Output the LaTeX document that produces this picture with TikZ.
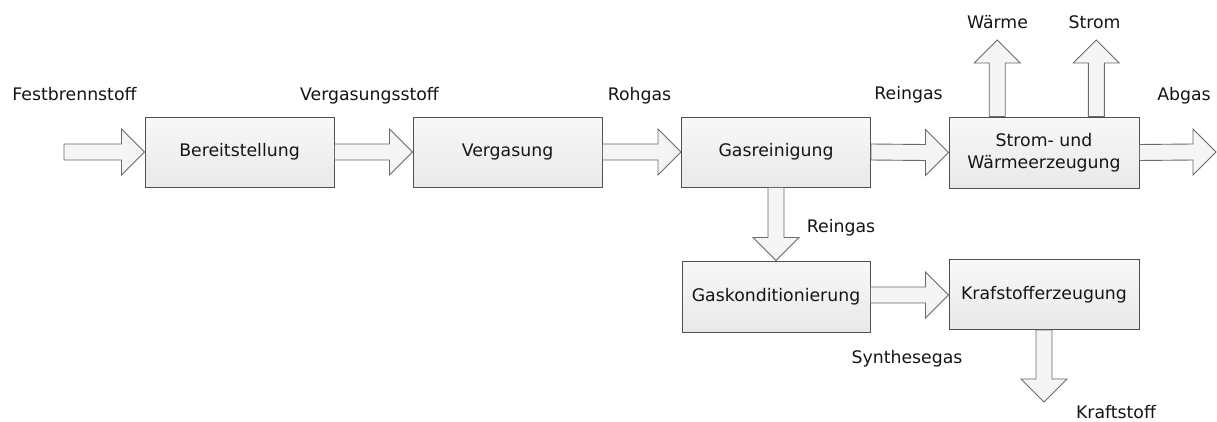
\documentclass[tikz,border=0pt]{standalone}
\usepackage{fontspec}
\setmainfont{DejaVu Sans}
\usetikzlibrary{calc}
\definecolor{boxfill}{HTML}{EEEEEE}
\definecolor{boxline}{HTML}{505050}
\definecolor{arrfill}{HTML}{F5F5F5}
\definecolor{arrline}{HTML}{6A6A6A}
\definecolor{txt}{HTML}{151515}
\tikzset{
  procbox/.style={draw=boxline, line width=1pt, top color=boxfill!40!white, bottom color=boxfill!95!gray,
    minimum width=189pt, minimum height=70pt, inner sep=0pt, align=center, text=txt,
    font=\fontsize{17.3}{22}\selectfont},
  lbl/.style={anchor=base, inner sep=0pt, text=txt, font=\fontsize{17.3}{22}\selectfont},
  blockarr/.style={draw=arrline, fill=arrfill, line width=0.9pt, line join=miter}
}
% horizontal block arrow from #1 to tip #2 (pointing right)
\newcommand\harrow[2]{%
  \draw[blockarr] ($(#1)+(0,-8)$) -- ($(#2)+(-23,-8)$) -- ($(#2)+(-23,-23)$) -- (#2)
    -- ($(#2)+(-23,23)$) -- ($(#2)+(-23,8)$) -- ($(#1)+(0,8)$) -- cycle;}
% downward block arrow from #1 to tip #2
\newcommand\darrow[2]{%
  \draw[blockarr] ($(#1)+(-8,0)$) -- ($(#2)+(-8,-23)$) -- ($(#2)+(-23,-23)$) -- (#2)
    -- ($(#2)+(23,-23)$) -- ($(#2)+(8,-23)$) -- ($(#1)+(8,0)$) -- cycle;}
% upward block arrow from #1 to tip #2
\newcommand\uarrow[2]{%
  \draw[blockarr] ($(#1)+(-8,0)$) -- ($(#2)+(-8,23)$) -- ($(#2)+(-23,23)$) -- (#2)
    -- ($(#2)+(23,23)$) -- ($(#2)+(8,23)$) -- ($(#1)+(8,0)$) -- cycle;}
\begin{document}
\begin{tikzpicture}[x=1pt,y=-1pt]
\useasboundingbox[fill=white] (0,0) rectangle (1217,421);

\node[procbox] (b1) at (239.5,152) {Bereitstellung};
\node[procbox] (b2) at (507.5,152) {Vergasung};
\node[procbox] (b3) at (776,152) {Gasreinigung};
\node[procbox, minimum width=190pt, minimum height=71pt] (b4) at (1044,152.5) {Strom- und\\Wärmeerzeugung};
\node[procbox, minimum width=188pt, minimum height=71pt] (b5) at (776,296.5) {Gaskonditionierung};
\node[procbox, minimum width=190pt] (b6) at (1044,294.5) {Krafstofferzeugung};

\coordinate (in) at (64,152);
\coordinate (out) at (1216,152);
\coordinate (kout) at (1044,402);
\coordinate (ws) at ($(b4.north west)!0.255!(b4.north east)$);
\coordinate (ss) at ($(b4.north west)!0.774!(b4.north east)$);
\coordinate (we) at (ws |- 0,40);
\coordinate (se) at (ss |- 0,40);
\coordinate (b5out) at (b5.east |- 0,295);
\coordinate (b6in) at (b6.west |- 0,295);

\harrow{in}{b1.west}
\harrow{b1.east}{b2.west}
\harrow{b2.east}{b3.west}
\harrow{b3.east}{b4.west}
\harrow{b4.east}{out}
\darrow{b3.south}{b5.north}
\harrow{b5out}{b6in}
\darrow{b6.south}{kout}
\uarrow{ws}{we}
\uarrow{ss}{se}

\node[lbl] (l1) at (74.5,100) {Festbrennstoff};
\node[lbl] (l2) at (369.5,100) {Vergasungsstoff};
\node[lbl] (l3) at (639.5,100) {Rohgas};
\node[lbl] (l4) at (908.5,99) {Reingas};
\node[lbl] (l5) at (1184,100) {Abgas};
\node[lbl] (l6) at (997.5,28) {Wärme};
\node[lbl] (l7) at (1094.5,28) {Strom};
\node[lbl] (l8) at (841,232) {Reingas};
\node[lbl] (l9) at (907,363) {Synthesegas};
\node[lbl] (l10) at (1116,418) {Kraftstoff};
\end{tikzpicture}
\end{document}
